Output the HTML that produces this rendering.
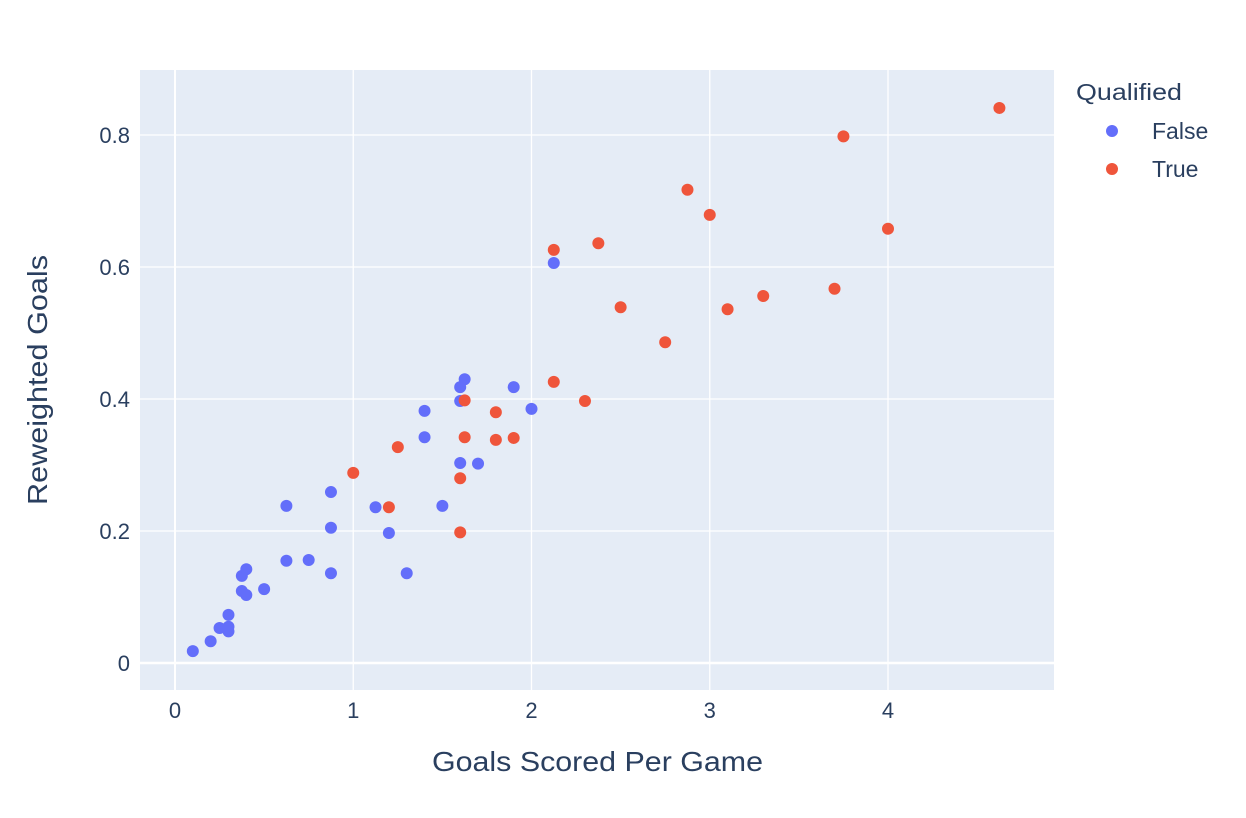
<!DOCTYPE html>
<html><head><meta charset="utf-8"><style>
body{margin:0;background:#fff;}
svg{display:block;font-family:"Liberation Sans",sans-serif;}
</style></head><body>
<svg id="chart" width="1246" height="818"></svg>
<script>
const falseX=[0.1,0.2,0.25,0.3,0.3,0.3,0.375,0.4,0.375,0.4,0.5,0.625,0.625,0.75,0.875,0.875,0.875,1.125,1.2,1.3,1.4,1.4,1.5,1.6,1.6,1.6,1.625,1.7,1.9,2.0,2.125];
const falseY=[0.018,0.033,0.053,0.055,0.048,0.073,0.109,0.103,0.132,0.142,0.112,0.155,0.238,0.156,0.136,0.205,0.259,0.236,0.197,0.136,0.342,0.382,0.238,0.303,0.397,0.418,0.43,0.302,0.418,0.385,0.606];
const trueX=[1.0,1.2,1.25,1.6,1.6,1.625,1.625,1.8,1.8,1.9,2.125,2.125,2.3,2.375,2.5,2.75,2.875,3.0,3.1,3.3,3.7,3.75,4.0,4.625];
const trueY=[0.288,0.236,0.327,0.198,0.28,0.398,0.342,0.38,0.338,0.341,0.626,0.426,0.397,0.636,0.539,0.486,0.717,0.679,0.536,0.556,0.567,0.798,0.658,0.841];
const xTicks=[0,1,2,3,4];
const yTicks=[0,0.2,0.4,0.6,0.8];
const yTickLabels=["0","0.2","0.4","0.6","0.8"];

const NS="http://www.w3.org/2000/svg";
const svg=document.getElementById('chart');
const X0=140,X1=1054,Y0=70,Y1=690;
const xs=v=>175+v*178.25;
const ys=v=>663-v*660;
function el(t,a,p){const e=document.createElementNS(NS,t);for(const k in a)e.setAttribute(k,a[k]);(p||svg).appendChild(e);return e;}

const bg=el('rect',{x:X0,y:Y0,width:X1-X0,height:Y1-Y0,fill:'#e5ecf6'});



xTicks.forEach(v=>{
  const l=el('line',{x1:xs(v),x2:xs(v),y1:Y0,y2:Y1,stroke:'#fff','stroke-width':v===0?2:1.3});
  
  
  const t=el('text',{x:xs(v),y:718,'text-anchor':'middle','font-size':22,fill:'#2a3f5f'});
  t.textContent=String(v);
  
  
});
yTicks.forEach((v,i)=>{
  const l=el('line',{x1:X0,x2:X1,y1:ys(v),y2:ys(v),stroke:'#fff','stroke-width':v===0?2.5:1.3});
  
  
  const t=el('text',{x:130,y:ys(v)+8,'text-anchor':'end','font-size':22,fill:'#2a3f5f'});
  t.textContent=yTickLabels[i];
  
  
});

function series(xa,ya,color,name){
  xa.forEach((x,i)=>{
    const c=el('circle',{cx:xs(x),cy:ys(ya[i]),r:6,fill:color});
    
    
  });
}
series(falseX,falseY,'#636efa','point-false');
series(trueX,trueY,'#ef553b','point-true');

const xt=el('text',{x:432,y:771,'font-size':28,fill:'#2a3f5f',textLength:331,lengthAdjust:'spacingAndGlyphs'});
xt.textContent='Goals Scored Per Game';


const yt=el('text',{x:0,y:0,'font-size':28,fill:'#2a3f5f',textLength:250,lengthAdjust:'spacingAndGlyphs',transform:'translate(47,505) rotate(-90)'});
yt.textContent='Reweighted Goals';



const lt=el('text',{x:1076,y:100,'font-size':23,fill:'#2a3f5f',textLength:106,lengthAdjust:'spacingAndGlyphs'});
lt.textContent='Qualified';


[['False','#636efa',131],['True','#ef553b',169]].forEach(([n,c,y])=>{
  const m=el('circle',{cx:1112,cy:y,r:6,fill:c});
  
  
  const t=el('text',{x:1152,y:y+8,'font-size':23,fill:'#2a3f5f'});
  t.textContent=n;
  
  
});
</script>
</body></html>
